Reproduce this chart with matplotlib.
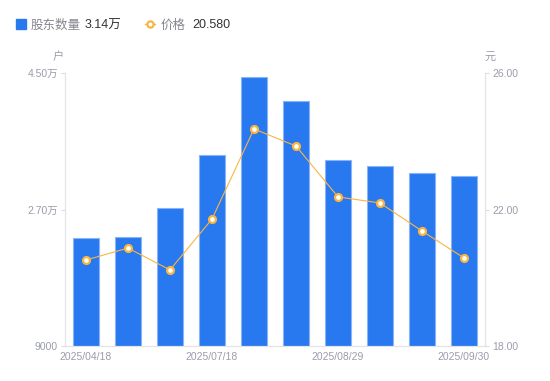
import matplotlib
matplotlib.use("Agg")
import matplotlib.pyplot as plt
from matplotlib.lines import Line2D
from matplotlib.patches import Rectangle

plt.rcParams['font.family'] = ['Liberation Sans', 'Noto Sans CJK SC', 'DejaVu Sans']

x_labels = ["2025/04/18", "", "", "2025/07/18", "", "", "2025/08/29", "", "", "2025/09/30"]
holders = [23240, 23370, 27200, 34190, 44470, 41310, 33530, 32740, 31810, 31400]
prices = [20.52, 20.87, 20.23, 21.72, 24.36, 23.86, 22.37, 22.19, 21.37, 20.58]
left_ticks = [9000, 27000, 45000]
left_tick_labels = ["9000", "2.70万", "4.50万"]
right_ticks = [18, 22, 26]
right_tick_labels = ["18.00", "22.00", "26.00"]

BLUE = "#2878f0"
ORANGE = "#f8b641"
GRAY = "#9a9cab"

fig = plt.figure(figsize=(5.5, 3.81), dpi=100)
ax = fig.add_axes([65/550, 35/381, 420/550, 273/381])
ax2 = ax.twinx()

xs = list(range(len(holders)))
ax.bar(xs, holders, width=0.6, color=BLUE, edgecolor="#8ab4f8", linewidth=0.8, zorder=2)
ax.set_xlim(-0.5, len(holders) - 0.5)
ax.set_ylim(9000, 45000)
ax.set_yticks(left_ticks)
ax.set_yticklabels(left_tick_labels)
ax.set_xticks(xs)
ax.set_xticklabels(x_labels)

ax2.plot(xs, prices, color=ORANGE, linewidth=0.8, marker="o", markersize=5,
         markerfacecolor="white", markeredgecolor=ORANGE, markeredgewidth=1.6, zorder=3)
ax2.set_ylim(18, 26)
ax2.set_yticks(right_ticks)
ax2.set_yticklabels(right_tick_labels)

for a in (ax, ax2):
    a.spines["top"].set_visible(False)
    a.spines["left"].set_color("#e3e4e8")
    a.spines["right"].set_color("#e3e4e8")
    a.spines["bottom"].set_color("#e3e4e8")
    a.tick_params(axis="both", colors="#dcdde2", labelcolor=GRAY, labelsize=7.5, length=3, width=0.8)

ax.tick_params(axis="x", length=0, pad=4)
ax.tick_params(axis="y", pad=2)
ax2.tick_params(axis="y", pad=2)

ax.set_zorder(ax2.get_zorder() - 1)
ax.patch.set_visible(True)
ax2.patch.set_visible(False)

fig.text(58/550, 1 - 57/381, "户", color=GRAY, fontsize=8, ha="center", va="center")
fig.text(490/550, 1 - 57/381, "元", color=GRAY, fontsize=8, ha="center", va="center")

# legend
ly = 1 - 25.5/381
fig.patches.append(Rectangle((16/550, 1 - 29/381), 10/550, 10/381, transform=fig.transFigure,
                             color=BLUE, figure=fig))
fig.text(31/550, ly, "股东数量", color="#85868f", fontsize=9, va="center")
fig.text(85/550, ly, "3.14万", color="#333333", fontsize=9, va="center")
fig.lines.append(Line2D([145/550, 155/550], [1 - 24/381, 1 - 24/381], transform=fig.transFigure,
                        color=ORANGE, linewidth=1, figure=fig))
fig.lines.append(Line2D([150/550], [1 - 24/381], transform=fig.transFigure, color=ORANGE,
                        marker="o", markersize=4.5, markerfacecolor="white", markeredgewidth=1.6,
                        linestyle="none", figure=fig))
fig.text(161/550, ly, "价格", color="#85868f", fontsize=9, va="center")
fig.text(192/550, ly, "20.580", color="#333333", fontsize=9, va="center")

fig.savefig("out.png", dpi=100)
